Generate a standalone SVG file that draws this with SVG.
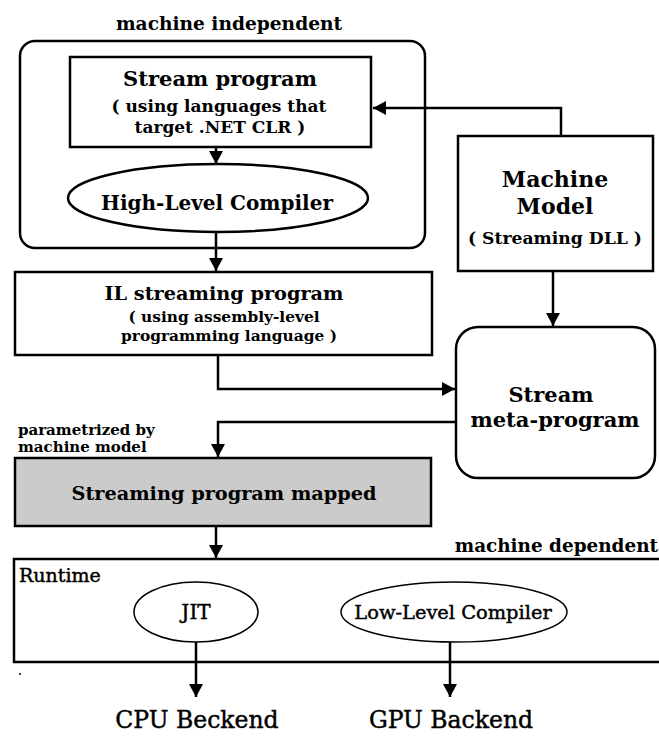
<svg xmlns="http://www.w3.org/2000/svg" width="659" height="736" viewBox="0 0 659 736">
  <style>
    .box { fill: #ffffff; stroke: #000000; stroke-width: 2.5; }
    .thin { fill: #ffffff; stroke: #000000; stroke-width: 1.5; }
    .gray { fill: #cbcbcb; stroke: #000000; stroke-width: 2.5; }
    .wire { fill: none; stroke: #000000; stroke-width: 2.5; }
    text { font-family: "DejaVu Serif", "Liberation Serif", serif; font-weight: bold; fill: #000000; }
    .c { text-anchor: middle; }
    .n { font-weight: normal; stroke: #000000; stroke-width: 0.45; }
  </style>
  <defs>
    <marker id="arrow" markerUnits="userSpaceOnUse" markerWidth="15" markerHeight="15" viewBox="0 0 15 15" refX="13" refY="7.5" orient="auto">
      <path d="M0,0.5 L13,7.5 L0,14.5 Z" fill="#000000"/>
    </marker>
  </defs>

  <!-- machine independent region -->
  <g id="machine-independent">
    <text class="c" x="229" y="30" font-size="18.6">machine independent</text>
    <rect class="box" x="20" y="41" width="405" height="207" rx="15" ry="15"/>
  </g>

  <g id="stream-program">
    <rect class="box" x="70" y="57" width="301" height="90"/>
    <text class="c" x="220" y="86" font-size="21">Stream program</text>
    <text class="c" x="219" y="112" font-size="17">( using languages that</text>
    <text class="c" x="220" y="133" font-size="17">target .NET CLR )</text>
  </g>

  <g id="high-level-compiler">
    <ellipse class="box" cx="218" cy="198" rx="150" ry="34"/>
    <text class="c" x="217" y="210" font-size="20">High-Level Compiler</text>
  </g>

  <g id="il-streaming-program">
    <rect class="box" x="15" y="272" width="417" height="83"/>
    <text class="c" x="224" y="300" font-size="19.3">IL streaming program</text>
    <text class="c" x="224" y="322" font-size="15.4">( using assembly-level</text>
    <text class="c" x="229" y="341" font-size="15.4">programming language )</text>
  </g>

  <g id="machine-model">
    <rect class="box" x="458" y="136" width="195" height="135"/>
    <text class="c" x="555" y="187" font-size="22">Machine</text>
    <text class="c" x="555" y="214" font-size="22">Model</text>
    <text class="c" x="555" y="244" font-size="17.2">( Streaming DLL )</text>
  </g>

  <g id="stream-meta-program">
    <rect class="box" x="456" y="327" width="199" height="151" rx="22" ry="22"/>
    <text class="c" x="551" y="402" font-size="21">Stream</text>
    <text class="c" x="555" y="427" font-size="21">meta-program</text>
  </g>

  <g id="parametrized-note">
    <text x="18" y="435" font-size="15">parametrized by</text>
    <text x="18" y="452" font-size="15">machine model</text>
  </g>

  <g id="streaming-program-mapped">
    <rect class="gray" x="15" y="458" width="416" height="68"/>
    <text class="c" x="224" y="500" font-size="19.3">Streaming program mapped</text>
  </g>

  <!-- machine dependent region -->
  <g id="runtime">
    <text x="658" y="552" text-anchor="end" font-size="18.4">machine dependent</text>
    <rect class="box" x="14" y="559" width="700" height="103"/>
    <text class="n" x="19" y="582" font-size="19">Runtime</text>
    <circle cx="20" cy="674" r="1" fill="#000000"/>
  </g>

  <g id="jit">
    <ellipse class="thin" cx="196" cy="612" rx="62" ry="30"/>
    <text class="c n" x="196" y="619" font-size="20">JIT</text>
  </g>

  <g id="low-level-compiler">
    <ellipse class="thin" cx="454" cy="612" rx="113" ry="30"/>
    <text class="c n" x="453" y="619" font-size="19.4">Low-Level Compiler</text>
  </g>

  <g id="cpu-backend">
    <text class="c n" x="197" y="728" font-size="23.5">CPU Beckend</text>
  </g>

  <g id="gpu-backend">
    <text class="c n" x="451" y="728" font-size="23.5">GPU Backend</text>
  </g>

  <!-- connectors -->
  <g id="connectors">
    <line class="wire" x1="216" y1="147" x2="216" y2="164" marker-end="url(#arrow)"/>
    <line class="wire" x1="216" y1="232" x2="216" y2="271" marker-end="url(#arrow)"/>
    <polyline class="wire" points="561,136 561,108 373,108" marker-end="url(#arrow)"/>
    <line class="wire" x1="553" y1="271" x2="553" y2="326" marker-end="url(#arrow)"/>
    <polyline class="wire" points="218,355 218,389 455,389" marker-end="url(#arrow)"/>
    <polyline class="wire" points="456,422 218,422 218,457" marker-end="url(#arrow)"/>
    <line class="wire" x1="216" y1="526" x2="216" y2="558" marker-end="url(#arrow)"/>
    <line class="wire" x1="196" y1="642" x2="196" y2="697" marker-end="url(#arrow)"/>
    <line class="wire" x1="450" y1="642" x2="450" y2="697" marker-end="url(#arrow)"/>
  </g>
</svg>
